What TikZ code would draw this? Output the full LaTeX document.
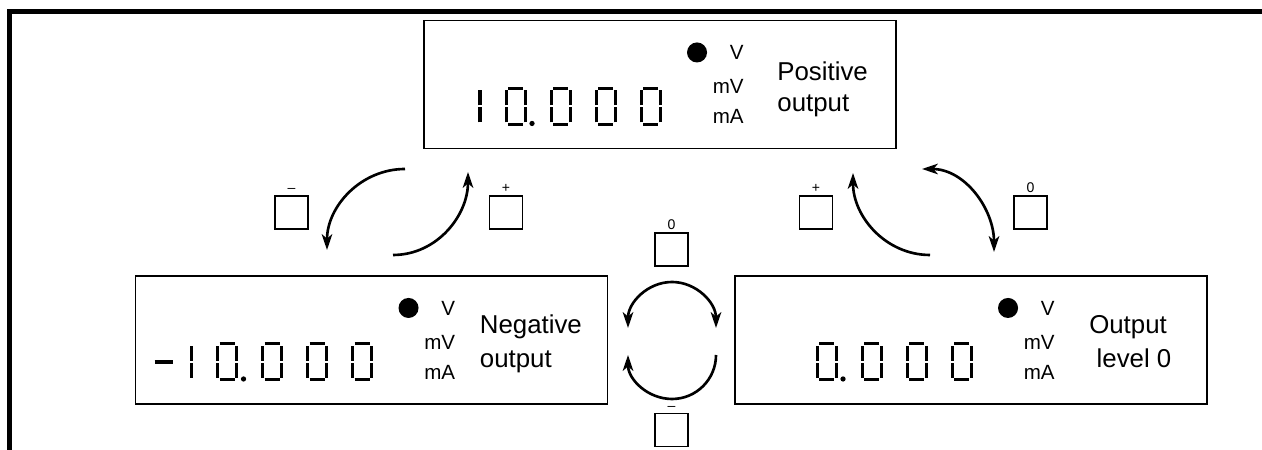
\documentclass[tikz,border=0pt]{standalone}
\usepackage{fontspec}
\setmainfont{Liberation Sans}
\usetikzlibrary{arrows.meta}

% seven segment digits, #1 = left edge of the cell
\newcommand{\lcdzero}[1]{%
  \begin{scope}[shift={(#1,25)}]
    \draw[lcdseg] (2,36) -- (17,36) (2,0) -- (17,0);
    \draw[lcdseg] (0,2) -- (0,17) (0,19) -- (0,34);
    \draw[lcdseg] (19,2) -- (19,17) (19,19) -- (19,34);
  \end{scope}}
\newcommand{\lcdone}[1]{%
  \begin{scope}[shift={(#1,25)}]
    \draw[lcdseg, line width=2pt] (19,2) -- (19,17) (19,19) -- (19,34);
  \end{scope}}
\newcommand{\lcdpoint}[1]{\fill (#1,26) circle (1.5pt);}

\begin{document}
\begin{tikzpicture}[x=0.2mm, y=0.2mm,
  lcdseg/.style={line width=1.7pt},
  display/.style={draw, line width=1.1pt, minimum width=94.4mm, minimum height=25.6mm, inner sep=0},
  unit/.style={font=\fontsize{11.7}{14}\selectfont, inner sep=0, anchor=east},
  caption/.style={font=\fontsize{14.7}{18}\selectfont, inner sep=0},
  key/.style={draw, line width=1.1pt, minimum size=6.6mm, inner sep=0},
  keylabel/.style={font=\fontsize{8}{9}\selectfont, inner sep=1pt},
  flow/.style={line width=1.5pt, -{Stealth[length=9pt, width=6pt, inset=2.5pt]}},
  flowboth/.style={line width=1.5pt, {Stealth[length=9pt, width=6pt, inset=2.5pt]}-{Stealth[length=9pt, width=6pt, inset=2.5pt]}},
  flowback/.style={line width=1.5pt, {Stealth[length=9pt, width=6pt, inset=2.5pt]}-}]
\useasboundingbox (0,0) rectangle (1262,450);

% frame
\draw[line width=2.8pt] (9.5,-10) -- (9.5,438.5) -- (1280,438.5);

% the three displays
\node[display] (pos) at (660,365.5) {};
\node[display] (neg) at (371.5,110) {};
\node[display] (zer) at (971,110) {};

\begin{scope}[shift={(pos.south west)}]
  \lcdone{38} \lcdzero{83} \lcdpoint{109} \lcdzero{128} \lcdzero{173} \lcdzero{218}
  \node[caption, anchor=base west] (posA) at (354,69) {Positive};
  \node[caption, anchor=base west] (posB) at (354,38) {output};
\end{scope}

\begin{scope}[shift={(neg.south west)}]
  \draw[line width=2.2pt] (20,43) -- (38,43);
  \lcdone{38} \lcdzero{83} \lcdpoint{109} \lcdzero{128} \lcdzero{173} \lcdzero{218}
  \node[caption, anchor=base west] (negA) at (345,71) {Negative};
  \node[caption, anchor=base west] (negB) at (345,37) {output};
\end{scope}

\begin{scope}[shift={(zer.south west)}]
  \lcdzero{83} \lcdpoint{109} \lcdzero{128} \lcdzero{173} \lcdzero{218}
  \node[caption, anchor=base] (zerA) at (394,71) {Output};
  \node[caption, anchor=base] (zerB) at (400,37) {level 0};
\end{scope}

% lamp and units
\foreach \b in {pos,neg,zer}{
  \begin{scope}[shift={(\b.south west)}]
    \fill (274,97) circle (5.7pt);
    \node[unit] (\b-V)  at (321,97) {V};
    \node[unit] (\b-mV) at (321,63) {mV};
    \node[unit] (\b-mA) at (321,33) {mA};
  \end{scope}
}

% keys
\node[key, label={[keylabel]above:–}] (keyminus) at (291.5,237.5) {};
\node[key, label={[keylabel]above:+}] (keyplus)  at (506,237.5) {};
\node[key, label={[keylabel]above:+}] (keyplusR) at (816,237.5) {};
\node[key, label={[keylabel]above:0}] (keyzeroR) at (1030.5,237.5) {};
\node[key, label={[keylabel]above:0}] (keyzero)  at (671.5,200.5) {};
\node[key, label={[keylabel]above:–}] (keyminusB) at (671.5,20) {};

% transitions
\coordinate (a1) at (405,281);
\coordinate (a2) at (327,200);
\draw[flow] (a1) to[out=180, in=90] (a2);
\coordinate (b1) at (393,195);
\coordinate (b2) at (468,278);
\draw[flow] (b1) to[out=0, in=-90] (b2);
\coordinate (c1) at (930,195);
\coordinate (c2) at (853,277);
\draw[flow] (c1) to[out=180, in=-90] (c2);
\coordinate (d1) at (922,281);
\coordinate (d2) at (994,198);
\draw[flowboth] (d1) to[out=0, in=90] (d2);
\coordinate (cu) at (628,122);
\draw[flowboth] (cu) arc[start angle=180, end angle=0, x radius=44, y radius=46];
\coordinate (cl) at (628,95);
\draw[flowback] (cl) arc[start angle=180, end angle=360, radius=44];
\end{tikzpicture}
\end{document}
